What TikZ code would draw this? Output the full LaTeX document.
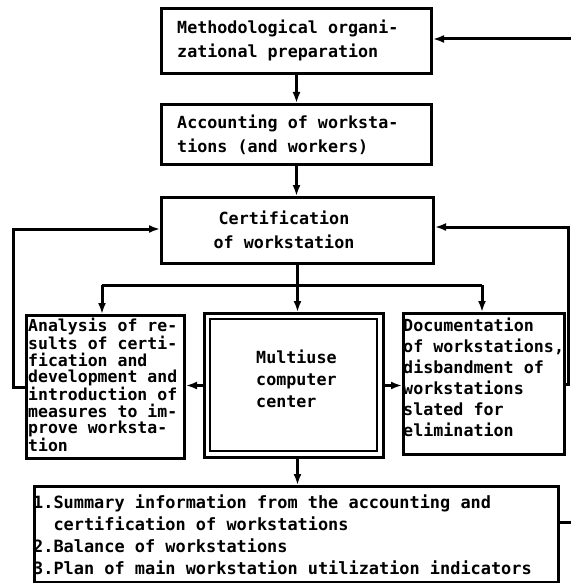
\documentclass[tikz,border=0pt]{standalone}
\usepackage{fontspec}
\setmonofont{DejaVu Sans Mono}
\usetikzlibrary{arrows.meta}
\begin{document}
\begin{tikzpicture}[x=1pt,y=-1pt,
  box/.style={draw, line width=3pt, inner sep=0pt, anchor=north west},
  txt/.style={font=\ttfamily\bfseries\fontsize{16.7}{24}\selectfont, inner sep=0pt, align=left, anchor=west},
  arr/.style={line width=3pt, -{Latex[length=11pt,width=8pt]}},
  ln/.style={line width=3pt}]
\useasboundingbox[fill=white] (0,0) rectangle (571,583);
% boxes
\node[box, minimum width=270pt, minimum height=65pt] (prep) at (160,7) {};
\node[box, minimum width=270pt, minimum height=60pt] (acc) at (160,103) {};
\node[box, minimum width=272pt, minimum height=66pt] (cert) at (160,196) {};
\node[box, minimum width=158pt, minimum height=143pt] (anal) at (25,314) {};
\node[box, minimum width=179pt, minimum height=144pt] (mcc) at (203,312) {};
\node[box, line width=2.2pt, minimum width=167pt, minimum height=132pt] (mcci) at (209,318) {};
\node[box, minimum width=161pt, minimum height=141pt] (doc) at (402,312) {};
\node[box, minimum width=524pt, minimum height=96pt] (sum) at (33,485) {};
% texts
\node[txt] (t1) at (177,40) {Methodological organi-\\zational preparation};
\node[txt] (t2) at (177,135) {Accounting of worksta-\\tions (and workers)};
\node[txt, align=center, anchor=center] (t3) at (284,230) {Certification\\of workstation};
\node[txt, font=\ttfamily\bfseries\fontsize{16.5}{16.5}\selectfont] (t4) at (28,385) {Analysis of re-\\sults of certi-\\fication and\\development and\\introduction of\\measures to im-\\prove worksta-\\tion};
\node[txt, font=\ttfamily\bfseries\fontsize{16.7}{22}\selectfont] (t5) at (256,379) {Multiuse\\computer\\center};
\node[txt, font=\ttfamily\bfseries\fontsize{16.7}{21}\selectfont] (t6) at (403,377) {Documentation\\of workstations,\\disbandment of\\workstations\\slated for\\elimination};
\node[txt, font=\ttfamily\bfseries\fontsize{16.9}{22}\selectfont] (t7) at (33,535) {1.Summary information from the accounting and\\\phantom{1.}certification of workstations\\2.Balance of workstations\\3.Plan of main workstation utilization indicators};
% coordinates
\coordinate (bl) at (102,285);
\coordinate (br) at (482,285);
\coordinate (ll1) at (13,384);
\coordinate (ll2) at (13,229);
\coordinate (rl) at (568,227);
\coordinate (tr) at (571,39);
\coordinate (brc) at (571,522);
% connectors
\draw[arr] (prep.south) -- (acc.north);
\draw[arr] (acc.south) -- (acc.south |- cert.north);
\draw[arr] (cert.south) -- (cert.south |- mcc.north);
\draw[ln] (bl) -- (br);
\draw[arr] (bl) -- (bl |- anal.north);
\draw[arr] (br) -- (br |- doc.north);
\draw[arr] (mcc.west) -- (mcc.west -| anal.east);
\draw[arr] (mcc.east) -- (mcc.east -| doc.west);
\draw[arr] (anal.west) -- (anal.west -| ll1) -- (ll2) -- (ll2 -| cert.west);
\draw[arr] (doc.east) -- (doc.east -| rl) -- (rl) -- (rl -| cert.east);
\draw[arr] (cert.south |- mcc.south) -- (cert.south |- sum.north);
\draw[arr] (tr) -- (tr -| prep.east);
\draw[ln] (sum.east |- brc) -- (brc);
\end{tikzpicture}
\end{document}
